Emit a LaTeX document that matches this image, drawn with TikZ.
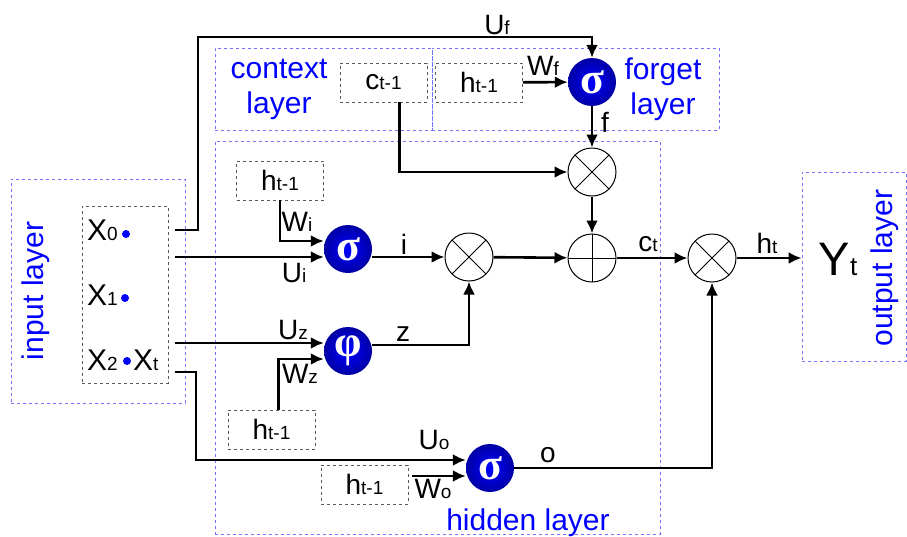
\documentclass[tikz,border=0pt]{standalone}
\usepackage{fontspec}
\setmainfont{Liberation Sans}
\newfontfamily\greekfont{Liberation Serif}
\usepackage{tikz}
\usetikzlibrary{arrows.meta, positioning}
\newcommand{\nho}[1]{{\fontsize{19}{19}\selectfont #1}}

\begin{document}
\begin{tikzpicture}[x=1pt, y=-1pt, >={Latex[length=13pt, width=12pt]},
    font=\fontsize{28}{30}\selectfont,
    layerbox/.style={draw=blue!55, dashed, line width=0.8pt, inner sep=0pt},
    layertext/.style={text=blue, align=center, font=\fontsize{30}{35}\selectfont},
    prevbox/.style={draw=black!65, dashed, line width=0.9pt, minimum width=87pt, minimum height=39pt, inner sep=0pt},
    gate/.style={circle, minimum size=48pt, inner sep=0pt, inner color=blue, outer color=blue!65!black, text=white, font=\greekfont\bfseries\fontsize{44}{44}\selectfont},
    mult/.style={circle, draw, line width=1pt, minimum size=48pt, inner sep=0pt,
        path picture={\draw (path picture bounding box.north west) -- (path picture bounding box.south east)
            (path picture bounding box.north east) -- (path picture bounding box.south west);}},
    addop/.style={circle, draw, line width=1pt, minimum size=48pt, inner sep=0pt,
        path picture={\draw (path picture bounding box.north) -- (path picture bounding box.south)
            (path picture bounding box.west) -- (path picture bounding box.east);}},
    xin/.style={anchor=base west, inner sep=0pt, font=\fontsize{30}{30}\selectfont},
    dot/.style={circle, fill=blue, inner sep=0pt, minimum size=8pt},
    flow/.style={->, line width=2.6pt}]
    \useasboundingbox (0,0) rectangle (907,536);

    % 1. Các lớp
    \node[layerbox, minimum width=174pt, minimum height=224pt] (inLayer) at (98,291) {};
    \node[layertext, rotate=90] (inText) at (36,291) {input layer};
    \node[layerbox, minimum width=217pt, minimum height=82pt] (ctxLayer) at (323.5,89) {};
    \node[layertext] (ctxText) at (279,89) {context\\layer};
    \node[layerbox, minimum width=287pt, minimum height=82pt] (fgLayer) at (575.5,89) {};
    \node[layertext] (fgText) at (663,89) {forget\\layer};
    \node[layerbox, minimum width=445pt, minimum height=393pt] (hidLayer) at (437.5,337.5) {};
    \node[layertext, anchor=base] (hidText) at (528,530) {hidden layer};
    \node[layerbox, minimum width=104pt, minimum height=189pt] (outLayer) at (854,266.5) {};
    \node[layertext, rotate=90] (outText) at (885,268) {output layer};

    % 2. Đầu vào
    \node[prevbox, minimum width=86pt, minimum height=177pt] (xBox) at (125,294.5) {};
    \node[xin] (x0) at (87,240) {X\nho{0}};
    \node[xin] (x1) at (87,305) {X\nho{1}};
    \node[xin] (x2) at (87,370) {X\nho{2}};
    \node[xin] (xt) at (133,370) {X\nho{t}};
    \node[dot] (d0) at (126,234) {};
    \node[dot] (d1) at (125,298) {};
    \node[dot] (d2) at (127,361) {};
    \coordinate (s0) at (175,230);
    \coordinate (s1) at (175,257);
    \coordinate (s2) at (175,343);
    \coordinate (s3) at (175,372);
    \coordinate (k0) at (198,37);
    \coordinate (k3) at (196,460);
    \coordinate (wo) at (412,476);

    % 3. Các cổng và phép toán
    \node[gate] (sf) at (592,82) {σ};
    \node[gate] (si) at (348,249) {σ};
    \node[gate] (pz) at (348,351) {φ};
    \node[gate] (so) at (490,468) {σ};
    \node[mult] (mf) at (592,172) {};
    \node[mult] (mi) at (469,257) {};
    \node[addop] (pl) at (592,258) {};
    \node[mult] (mo) at (712,258) {};
    \node[prevbox] (cPrev) at (383.5,82.5) {c\nho{t-1}};
    \node[prevbox] (hf) at (479,82.5) {h\nho{t-1}};
    \node[prevbox] (hi) at (280,180.5) {h\nho{t-1}};
    \node[prevbox] (hz) at (271.5,429.5) {h\nho{t-1}};
    \node[prevbox] (ho) at (364.5,484.5) {h\nho{t-1}};
    \node (yt) at (838,259) {\fontsize{47}{47}\selectfont Y{\fontsize{26}{26}\selectfont t}};

    % 4. Các mũi tên
    \draw[flow] (s0) -| (k0) -| (sf);
    \draw[flow] (s1) -- ([yshift=-8pt]si.west);
    \draw[flow] (hi.south) |- ([yshift=8pt]si.west);
    \draw[flow] ([yshift=-8pt]si.east) -- (mi);
    \draw[flow] (s2) -- ([yshift=8pt]pz.west);
    \draw[flow] ([xshift=7pt]hz.north) |- ([yshift=-8pt]pz.west);
    \draw[flow] ([yshift=6pt]pz.east) -| (mi);
    \draw[flow] (s3) -| (k3) -- ([yshift=8pt]so.west);
    \draw[flow] (wo) -- ([yshift=-8pt]so.west);
    \draw[flow] (so) -| (mo);
    \draw[flow] ([xshift=16pt]cPrev.south) |- (mf);
    \draw[flow] (hf) -- (sf);
    \draw[flow] (sf) -- (mf);
    \draw[flow] (mf) -- (pl);
    \draw[flow] (mi) -- (pl);
    \draw[flow] (pl) -- (mo);
    \draw[flow] (mo) -- (mo -| outLayer.west);

    % 5. Nhãn
    \node (uf) at (497,25) {U\nho{f}};
    \node (wf) at (543,66) {W\nho{f}};
    \node (lf) at (605,122) {f};
    \node (wi) at (297,222) {W\nho{i}};
    \node (ui) at (294,273) {U\nho{i}};
    \node (li) at (404,244) {i};
    \node (uz) at (293,330) {U\nho{z}};
    \node (wz) at (300,374) {W\nho{z}};
    \node (lz) at (403,334) {z};
    \node (uo) at (434,440) {U\nho{o}};
    \node (wo2) at (433,489) {W\nho{o}};
    \node (lo) at (548,455) {o};
    \node (ct) at (648,244) {c\nho{t}};
    \node (ht) at (767,243) {h\nho{t}};
\end{tikzpicture}
\end{document}
